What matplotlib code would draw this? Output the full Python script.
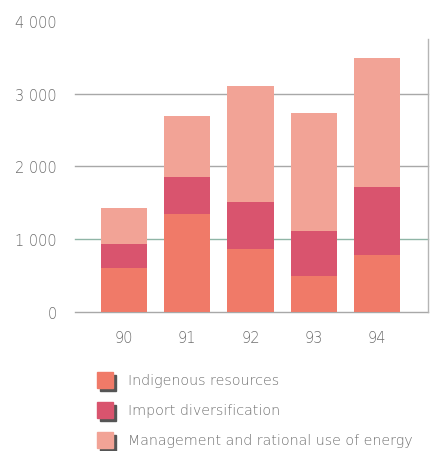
import matplotlib
matplotlib.use("Agg")
import matplotlib.pyplot as plt
from matplotlib.patches import Rectangle
import numpy as np

years = ["90", "91", "92", "93", "94"]
indigenous = [600, 1350, 870, 490, 780]
import_div = [330, 510, 640, 630, 940]
management = [500, 840, 1600, 1610, 1770]
series_names = ["Indigenous resources", "Import diversification",
                "Management and rational use of energy"]
yticks = [0, 1000, 2000, 3000, 4000]
ytick_labels = ["0", "1 000", "2 000", "3 000", "4 000"]

colors = ["#f07a68", "#d9546e", "#f2a396"]
text_color = "#6e6e6e"
plt.rcParams['font.family'] = ['DejaVu Sans']
plt.rcParams['font.weight'] = 'light'

fig = plt.figure(figsize=(4.35, 4.52), dpi=100)
ax = fig.add_axes([0.172, 0.3075, 0.812, 0.644])

x = np.arange(len(years))
width = 0.73
bottom = np.zeros(len(years))
for vals, c in zip([indigenous, import_div, management], colors):
    ax.bar(x, vals, width, bottom=bottom, color=c, edgecolor="none", zorder=3)
    bottom += np.array(vals)

# horizontal reference lines
for v in [0, 1000, 2000, 3000]:
    col = "#8fb5a6" if v == 1000 else "#a8a8a8"
    ax.axhline(v, color=col, lw=1.0, zorder=1, clip_on=False)
ax.plot([4.806, 4.806], [0, 3750], color="#b5b5b5", lw=1.0, clip_on=False, zorder=1)

ax.set_xlim(-0.775, 4.806)
ax.set_ylim(0, 4000)
ax.set_xticks(x)
ax.set_xticklabels(years)
ax.set_yticks(yticks)
ax.set_yticklabels(ytick_labels)
ax.tick_params(axis="both", length=0, labelsize=10.5, colors=text_color)
ax.tick_params(axis="x", pad=13)
ax.tick_params(axis="y", pad=13)
for s in ax.spines.values():
    s.set_visible(False)

# legend drawn manually with shadowed swatches
W, H = 435, 452
for i, (name, c) in enumerate(zip(series_names, colors)):
    yc = 381 + 30 * i
    sx, sy, sz = 97, yc - 8, 16
    fig.patches.append(Rectangle(((sx + 3) / W, 1 - (sy + sz + 3) / H), sz / W, sz / H,
                                 transform=fig.transFigure, color="#555555", zorder=1))
    fig.patches.append(Rectangle((sx / W, 1 - (sy + sz) / H), sz / W, sz / H,
                                 transform=fig.transFigure, color=c, zorder=2))
    fig.text(128 / W, 1 - yc / H, name, fontsize=10.3, color=text_color,
             va="center", ha="left")

fig.savefig("out.png", dpi=100, facecolor="white")
